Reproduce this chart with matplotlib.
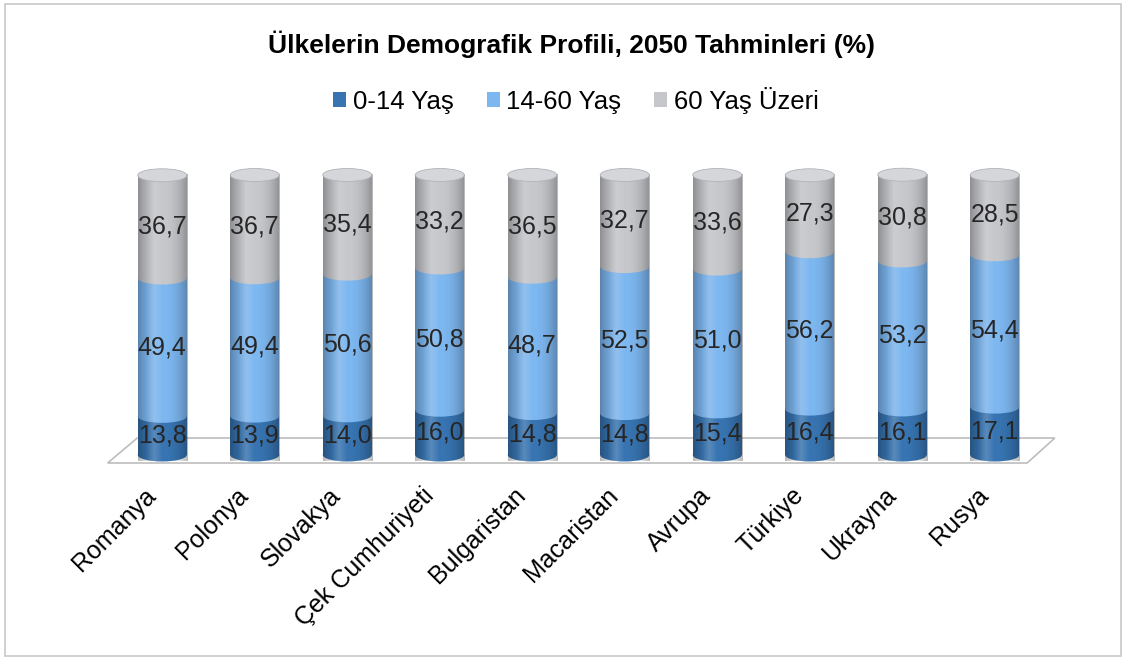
import matplotlib.pyplot as plt
import numpy as np
from matplotlib.patches import Rectangle, Ellipse, Polygon

plt.rcParams['font.family'] = ['Liberation Sans', 'DejaVu Sans']

countries = ['Romanya', 'Polonya', 'Slovakya', 'Çek Cumhuriyeti', 'Bulgaristan',
             'Macaristan', 'Avrupa', 'Türkiye', 'Ukrayna', 'Rusya']
age_0_14 = [13.8, 13.9, 14.0, 16.0, 14.8, 14.8, 15.4, 16.4, 16.1, 17.1]
age_14_60 = [49.4, 49.4, 50.6, 50.8, 48.7, 52.5, 51.0, 56.2, 53.2, 54.4]
age_60_plus = [36.7, 36.7, 35.4, 33.2, 36.5, 32.7, 33.6, 27.3, 30.8, 28.5]
series_names = ['0-14 Yaş', '14-60 Yaş', '60 Yaş Üzeri']

colors = ['#3774b1', '#7db7f0', '#c6c7cb']
cap_color = '#d4d6da'

fig = plt.figure(figsize=(11.25, 6.6), dpi=100)
# thin frame around the whole chart
fig.patches.append(Rectangle((0.004, 0.006), 0.992, 0.988, transform=fig.transFigure,
                             fill=False, edgecolor='#c8c8c8', linewidth=1.2))

ax = fig.add_axes([116 / 1125, 205 / 660, 925 / 1125, 280 / 660])
n = len(countries)
ax.axis('off')

# floor of the 3D plot
yscale = 100 / 280  # data units per pixel
floor = Polygon([(-0.59, (455 - 463) * yscale), (9.35, (455 - 463) * yscale),
                 (9.65, (455 - 438) * yscale), (-0.27, (455 - 438) * yscale)],
                closed=True, facecolor='white', edgecolor='#bdbdbd', linewidth=1.2,
                clip_on=False, zorder=0)
ax.add_patch(floor)

bw = 0.53
eh = 13 * yscale
data = np.array([age_0_14, age_14_60, age_60_plus])

for i in range(n):
    bottom = 0
    for s in range(3):
        v = data[s, i]
        ax.add_patch(Ellipse((i, bottom), bw, eh, facecolor=colors[s], edgecolor='none',
                             clip_on=False, zorder=2))
        ax.add_patch(Rectangle((i - bw / 2, bottom), bw, v, facecolor=colors[s],
                               edgecolor='none', clip_on=False, zorder=2))
        bottom += v
    cap = Ellipse((i, bottom), bw, eh, facecolor=cap_color, edgecolor='#b0b3b8',
                  linewidth=0.6, clip_on=False, zorder=4)
    ax.add_patch(cap)
    # cylinder shading
    clip = Polygon([(i - bw / 2, 0), (i - bw / 2, bottom), (i + bw / 2, bottom),
                    (i + bw / 2, 0)], closed=True, transform=ax.transData)
    xs = np.linspace(-1, 1, 60)
    shade = np.zeros((1, 60, 4))
    shade[0, :, 3] = 0.28 * np.abs(xs) ** 2.2
    im = ax.imshow(shade, extent=(i - bw / 2, i + bw / 2, -eh / 2, bottom),
                   aspect='auto', zorder=3, clip_on=False)
    im.set_clip_path(clip)
    light = np.ones((1, 60, 4))
    light[0, :, 3] = np.clip(1 - np.abs(xs + 0.35) * 3, 0, 1) * 0.18
    im2 = ax.imshow(light, extent=(i - bw / 2, i + bw / 2, -eh / 2, bottom),
                    aspect='auto', zorder=3, clip_on=False)
    im2.set_clip_path(clip)

ax.set_xlim(-0.5, n - 0.5)
ax.set_ylim(0, 100)

# value labels
for i in range(n):
    bottom = 0
    for s in range(3):
        v = data[s, i]
        ax.text(i, bottom + v / 2, f'{v:.1f}'.replace('.', ','), ha='center', va='center',
                fontsize=18, color='#262626', zorder=5)
        bottom += v

# category labels
for i, c in enumerate(countries):
    ax.text(i - 0.2, -10, c, rotation=45, ha='right', va='top', rotation_mode='anchor',
            fontsize=18, color='black', clip_on=False)

fig.text(0.508, 0.933, 'Ülkelerin Demografik Profili, 2050 Tahminleri (%)',
         ha='center', va='center', fontsize=19, fontweight='bold')

handles = [Rectangle((0, 0), 1, 1, facecolor=c) for c in colors]
fig.legend(handles, series_names, loc='center', bbox_to_anchor=(0.512, 0.848),
           ncol=3, frameon=False, fontsize=18.5, handlelength=0.5, handleheight=0.5,
           handletextpad=0.25, columnspacing=1.3)

fig.savefig('out.png', dpi=100)
